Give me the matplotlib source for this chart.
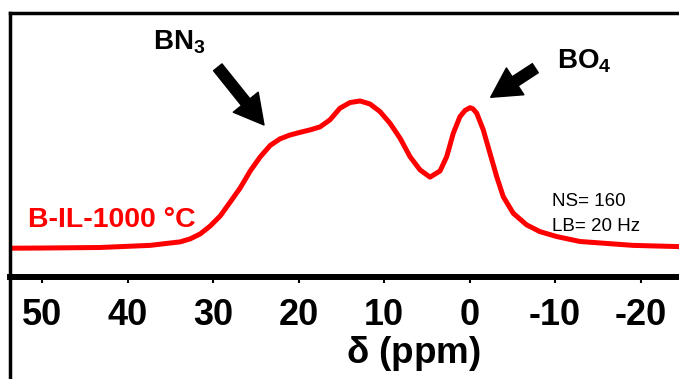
import matplotlib
matplotlib.use("Agg")
import matplotlib.pyplot as plt

# 11B NMR spectrum (ppm, normalised intensity)
ppm = [53.55, 50.08, 43.26, 37.41, 33.87, 32.70, 31.53, 30.36, 29.19, 28.02,
       26.85, 25.68, 24.51, 23.34, 22.20, 21.03, 19.85, 18.68, 17.51, 16.35,
       15.18, 14.01, 12.83, 11.67, 10.50, 9.33, 8.15, 6.98, 5.81, 4.64, 3.47,
       2.69, 1.92, 1.14, 0.55, -0.04, -0.39, -0.82, -1.59, -2.37, -3.16,
       -3.93, -5.10, -6.67, -8.22, -10.18, -12.91, -19.11, -24.49, -26.95]
intensity = [0.163, 0.164, 0.167, 0.179, 0.199, 0.216, 0.244, 0.289, 0.346,
             0.425, 0.505, 0.601, 0.681, 0.746, 0.783, 0.805, 0.820, 0.834,
             0.851, 0.891, 0.957, 0.989, 0.998, 0.981, 0.938, 0.872, 0.787,
             0.682, 0.607, 0.566, 0.601, 0.682, 0.815, 0.909, 0.944, 0.960,
             0.953, 0.929, 0.834, 0.702, 0.569, 0.455, 0.361, 0.295, 0.257,
             0.229, 0.201, 0.179, 0.172, 0.170]
xticks = [50, 40, 30, 20, 10, 0, -10, -20]
sample = "B-IL-1000 °C"
params = ["NS= 160", "LB= 20 Hz"]

plt.rcParams['font.family'] = ['Liberation Sans', 'DejaVu Sans']
plt.rcParams['mathtext.fontset'] = 'custom'
plt.rcParams['mathtext.rm'] = 'Liberation Sans'
plt.rcParams['mathtext.bf'] = 'Liberation Sans:bold'
plt.rcParams['mathtext.default'] = 'bf'

fig = plt.figure(figsize=(6.79, 3.79), dpi=100)
# axes run past the right and bottom edges of the figure, like the cropped original
ax = fig.add_axes([10 / 679, -21 / 379, 690 / 679, 387 / 379])

ax.plot(ppm, intensity, color='#ff0000', lw=3.6,
        solid_capstyle='round', solid_joinstyle='round')

ax.set_xlim(53.79, -26.95)
ax.set_ylim(-0.698, 1.497)

ax.spines['bottom'].set_position(('data', 0))
ax.spines['bottom'].set_linewidth(4.3)
ax.spines['left'].set_linewidth(2.5)
ax.spines['top'].set_linewidth(2.5)
ax.spines['right'].set_visible(False)

ax.set_yticks([])
ax.set_xticks(xticks)
ax.set_xticklabels([str(t) for t in xticks], fontsize=26, fontweight='bold')
ax.tick_params(axis='x', direction='out', length=4, width=1.5, pad=11)

ax.set_xlabel(r'$\delta$ (ppm)', fontsize=26.5, fontweight='bold')
ax.xaxis.set_label_coords(0.584, 0.171)

# annotations
arrow = dict(arrowstyle='simple,head_length=2.1,head_width=2.3,tail_width=0.78',
             mutation_scale=10, color='black', shrinkA=0, shrinkB=0)
ax.annotate('', xy=(24.07, 0.862), xytext=(29.48, 1.189), arrowprops=arrow)
ax.annotate('', xy=(-2.46, 1.019), xytext=(-7.68, 1.184), arrowprops=arrow)

ax.text(37.05, 1.288, r'BN$_3$', fontsize=20, fontweight='bold', va='baseline')
ax.text(-10.18, 1.184, r'BO$_4$', fontsize=20, fontweight='bold', va='baseline')

ax.text(51.72, 0.285, sample, fontsize=20.5, fontweight='bold', color='#ff0000',
        va='baseline')
ax.text(-9.59, 0.403, params[0], fontsize=13.5, va='baseline')
ax.text(-9.59, 0.261, params[1], fontsize=13.5, va='baseline')

fig.savefig("out.png", dpi=100)
